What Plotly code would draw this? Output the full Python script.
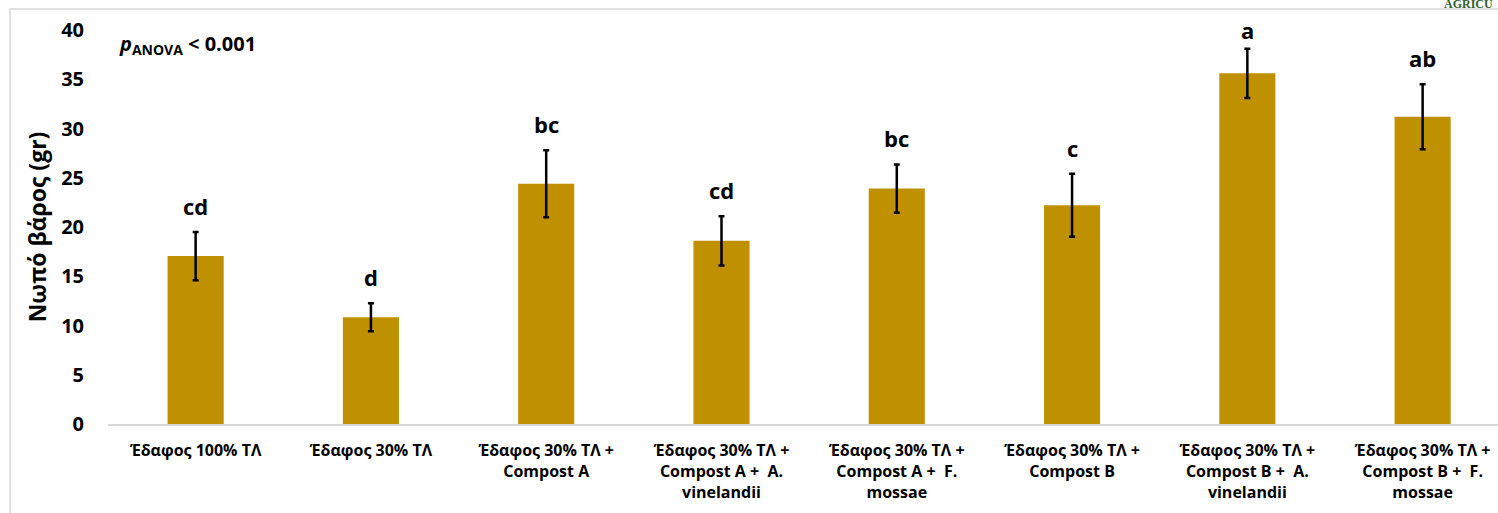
import plotly.graph_objects as go

categories = [
    "Έδαφος 100% ΤΛ",
    "Έδαφος 30% ΤΛ",
    "Έδαφος 30% ΤΛ +<br>Compost A",
    "Έδαφος 30% ΤΛ +<br>Compost A +  A.<br>vinelandii",
    "Έδαφος 30% ΤΛ +<br>Compost A +  F.<br>mossae",
    "Έδαφος 30% ΤΛ +<br>Compost B",
    "Έδαφος 30% ΤΛ +<br>Compost B +  A.<br>vinelandii",
    "Έδαφος 30% ΤΛ +<br>Compost B +  F.<br>mossae",
]
means = [17.05, 10.83, 24.4, 18.6, 23.9, 22.2, 35.6, 31.2]
errors = [2.45, 1.42, 3.4, 2.5, 2.45, 3.2, 2.5, 3.3]
letters = ["cd", "d", "bc", "cd", "bc", "c", "a", "ab"]
y_ticks = [0, 5, 10, 15, 20, 25, 30, 35, 40]

FONT = "Open Sans, Noto Sans, DejaVu Sans, sans-serif"
BAR_COLOR = "#BF9000"
Y_MAX = 40

x_idx = list(range(len(categories)))

fig = go.Figure()
fig.add_trace(go.Bar(
    x=x_idx,
    y=means,
    width=0.32,
    marker=dict(color=BAR_COLOR, line=dict(width=0)),
    error_y=dict(type="data", array=errors, visible=True,
                 color="black", thickness=2.5, width=3),
    showlegend=False,
    hoverinfo="skip",
))

for xi, m, e, lab in zip(x_idx, means, errors, letters):
    top = m + e
    if top > Y_MAX - 3:
        # label kept near the top of the plotting area (as the original chart does)
        fig.add_annotation(
            x=xi, y=Y_MAX, text=f"<b>{lab}</b>", showarrow=False,
            xanchor="center", yanchor="top", yshift=17,
            font=dict(family=FONT, size=22, color="black"),
        )
    else:
        fig.add_annotation(
            x=xi, y=top, text=f"<b>{lab}</b>", showarrow=False,
            xanchor="center", yanchor="bottom", yshift=9,
            font=dict(family=FONT, size=22, color="black"),
        )

fig.add_annotation(
    xref="paper", yref="paper", x=0.0065, y=0.962,
    text="<b><i>p</i><sub>ANOVA</sub> &lt; 0.001</b>",
    showarrow=False, xanchor="left", yanchor="middle",
    font=dict(family=FONT, size=20, color="black"),
)

fig.add_annotation(
    xref="paper", yref="paper", x=0.960, y=1.066,
    text="<b>AGRICU</b>", showarrow=False, xanchor="left", yanchor="middle",
    font=dict(family="Liberation Serif, serif", size=12, color="#2e5e2e"),
)

# light frame around the chart
fig.add_shape(
    type="rect", xref="paper", yref="paper",
    x0=-0.0705, x1=1.02, y0=-0.4, y1=1.053,
    line=dict(color="#d9d9d9", width=1.5), fillcolor="rgba(0,0,0,0)",
    layer="below",
)

fig.update_layout(
    width=1498, height=513,
    margin=dict(l=108, r=0, t=30, b=89),
    paper_bgcolor="white", plot_bgcolor="white",
    font=dict(family=FONT, color="black"),
    xaxis=dict(
        range=[-0.5, 7.43],
        tickmode="array", tickvals=x_idx,
        ticktext=[f"<b>{c}</b>" for c in categories],
        tickfont=dict(family=FONT, size=16, color="black"),
        showline=True, linecolor="#d9d9d9", linewidth=1.5,
        showgrid=False, zeroline=False, ticks="",
        ticklabelstandoff=11,
    ),
    yaxis=dict(
        range=[0, Y_MAX],
        tickmode="array", tickvals=y_ticks,
        ticktext=[f"<b>{t}</b>" for t in y_ticks],
        tickfont=dict(family=FONT, size=20, color="black"),
        showgrid=False, zeroline=False, showline=False, ticks="",
        ticklabelstandoff=23,
        title=dict(text="<b>Νωπό βάρος (gr)</b>",
                   font=dict(family=FONT, size=23, color="black"),
                   standoff=8),
    ),
)

fig.write_html("out.html",
               config={"displayModeBar": False},
               post_script="document.body.style.margin='0';document.body.style.padding='0';")
